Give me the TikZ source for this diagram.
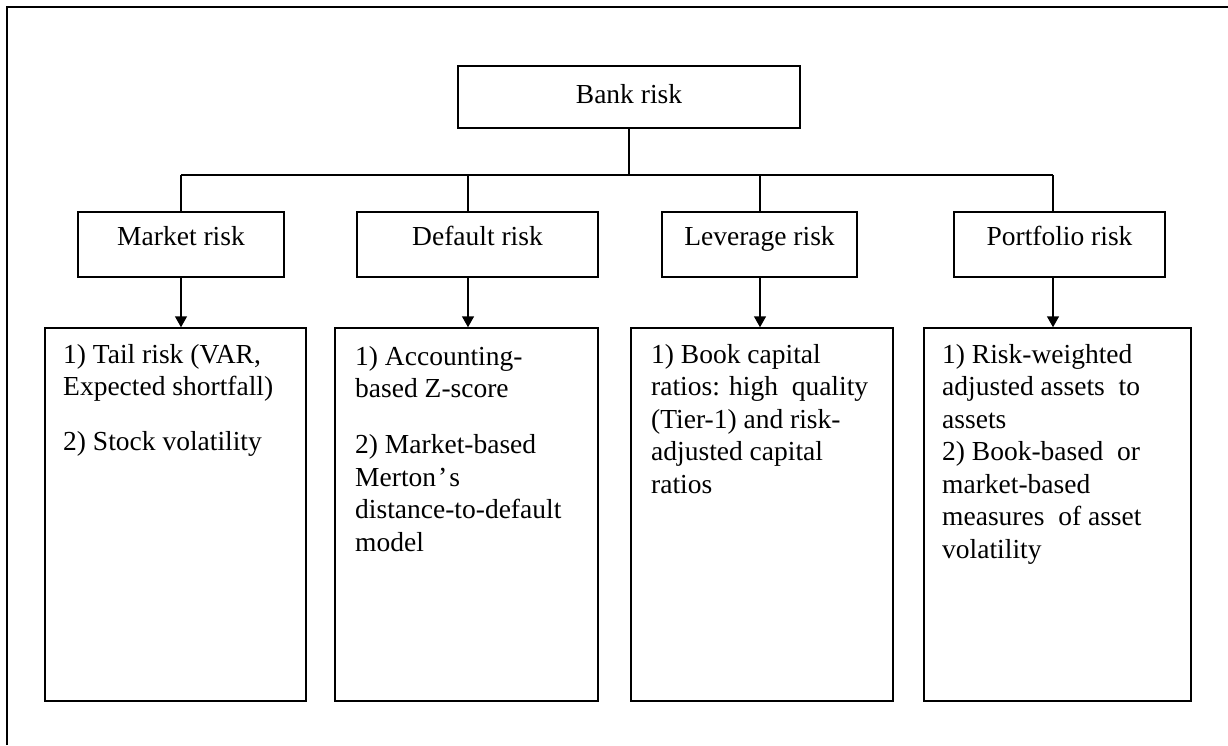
\documentclass[tikz,border=0pt]{standalone}
\usepackage{fontspec}
\setmainfont{Liberation Serif}
\usetikzlibrary{arrows.meta}
\tikzset{
  box/.style={draw, line width=1.5pt, inner sep=0pt},
  head/.style={anchor=base, inner sep=0pt, font=\fontsize{27.5}{32.5}\selectfont},
  body/.style={anchor=base west, inner sep=0pt, align=left, font=\fontsize{27.5}{32.5}\selectfont},
  link/.style={line width=1.5pt},
  arr/.style={line width=1.5pt, -{Triangle[length=11pt,width=12pt]}},
}
\begin{document}
\begin{tikzpicture}[x=1pt,y=-1pt]
\useasboundingbox (0,0) rectangle (1228,745);
% outer frame (cropped)
\coordinate (fa) at (7,745);
\coordinate (fb) at (7,7);
\coordinate (fc) at (1228,7);
\draw[line width=1.8pt] (fa) -- (fb) -- (fc);

% top
\node[box, minimum width=342pt, minimum height=62pt] (bank) at (629,97) {};
\node[head] (bankt) at (629,103) {Bank risk};

% second row
\node[box, minimum width=206pt, minimum height=65pt] (mkt) at (181,244.5) {};
\node[box, minimum width=241pt, minimum height=65pt] (dft) at (477.5,244.5) {};
\node[box, minimum width=195pt, minimum height=65pt] (lev) at (759.5,244.5) {};
\node[box, minimum width=211pt, minimum height=65pt] (prt) at (1059.5,244.5) {};
\node[head] (mktt) at (181,245) {Market risk};
\node[head] (dftt) at (477.5,245) {Default risk};
\node[head] (levt) at (759.5,245) {Leverage risk};
\node[head] (prtt) at (1059.5,245) {Portfolio risk};

% bottom row
\node[box, minimum width=261pt, minimum height=373pt] (mktd) at (175.5,514.5) {};
\node[box, minimum width=263pt, minimum height=373pt] (dftd) at (466.5,514.5) {};
\node[box, minimum width=262pt, minimum height=373pt] (levd) at (762,514.5) {};
\node[box, minimum width=267pt, minimum height=373pt] (prtd) at (1057.5,514.5) {};

% texts: anchor is the baseline of the LAST line
\node[body] (mktx) at (63,450) {1) Tail risk (VAR,\\Expected shortfall)\\[22pt]2) Stock volatility};
\node[body] (dftx) at (355,551) {1) Accounting-\\based Z-score\\[23.5pt]2) Market-based\\Merton\kern2pt’\kern2pt s\\distance-to-default\\model};
\node[body] (levx) at (651,493) {1) Book capital\\ratios: high\ \ quality\\(Tier-1) and risk-\\adjusted capital\\ratios};
\node[body] (prtx) at (942,558) {1) Risk-weighted\\adjusted assets\ \ to\\assets\\2) Book-based\ \ or\\market-based\\measures\ \ of asset\\volatility};

% branch positions
\coordinate (bM) at (181,175);
\coordinate (bD) at (468,175);
\coordinate (bL) at (760,175);
\coordinate (bP) at (1053,175);

\draw[link] (bank.south) -- (bank.south |- bM);
\draw[link] (bM) -- (bP);
\draw[link] (bM) -- (bM |- mkt.north);
\draw[link] (bD) -- (bD |- dft.north);
\draw[link] (bL) -- (bL |- lev.north);
\draw[link] (bP) -- (bP |- prt.north);

\draw[arr] (bM |- mkt.south) -- (bM |- mktd.north);
\draw[arr] (bD |- dft.south) -- (bD |- dftd.north);
\draw[arr] (bL |- lev.south) -- (bL |- levd.north);
\draw[arr] (bP |- prt.south) -- (bP |- prtd.north);
\end{tikzpicture}
\end{document}
